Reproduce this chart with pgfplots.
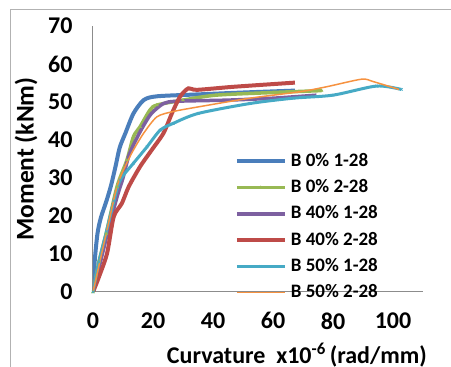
\documentclass[border=0pt]{standalone}
\usepackage{fontspec}
\setmainfont{Carlito}
\usepackage{pgfplots}
\pgfplotsset{compat=1.18}
\definecolor{cblue}{HTML}{4A7EBB}
\definecolor{cred}{HTML}{BE4B48}
\definecolor{cgreen}{HTML}{98B954}
\definecolor{cpurple}{HTML}{7D60A0}
\definecolor{ccyan}{HTML}{46AAC5}
\definecolor{corange}{HTML}{F69240}
\begin{document}
\begin{tikzpicture}
\useasboundingbox (0pt,0pt) rectangle (451pt,367pt);
\draw[black!30, line width=1pt] (10pt,-5pt) -- (10pt,357pt) -- (460pt,357pt);
\begin{axis}[
  at={(93pt,75pt)}, anchor=south west,
  scale only axis, width=330pt, height=266pt,
  xmin=0, xmax=110, ymin=0, ymax=70,
  axis lines=left,
  axis line style={-, black!45, line width=1pt},
  xtick={0,20,...,100}, ytick={0,10,...,70},
  major tick length=0pt,
  /pgf/number format/assume math mode=true,
  ticklabel style={font=\fontsize{24}{24}\selectfont\bfseries},
  xticklabel style={yshift=-17pt},
  yticklabel style={xshift=-17pt},
  xlabel={Curvature\ \ x10\textsuperscript{-6}\,(rad/mm)},
  ylabel={Moment (kNm)},
  xlabel style={font=\fontsize{24}{24}\selectfont\bfseries, at={(axis description cs:0.618,-0.237)}, anchor=center},
  ylabel style={font=\fontsize{25.5}{25.5}\selectfont\bfseries, at={(axis description cs:-0.203,0.5)}, anchor=center, rotate=0},
  legend cell align=left,
  legend style={draw=none, fill=none, at={(axis cs:46.2,37.1)}, anchor=north west,
    font=\fontsize{19}{19}\selectfont\bfseries,
    nodes={inner sep=0pt, text height=13pt, text depth=3pt},
    row sep=10.3pt,
    /tikz/every odd column/.append style={column sep=4pt}},
  legend image code/.code={\draw[mark repeat=2,mark phase=2,#1] plot coordinates {(0pt,0pt) (24pt,0pt) (48pt,0pt)};},
  every axis plot/.append style={smooth, tension=0.45},
]
\addplot[cblue, line width=4pt, no marks] coordinates {
(0,0) (0.6,8.4) (1.5,15.4) (2.6,19.5) (4.5,24) (6,28) (7.5,33) (8.9,38) (10.8,41.8) (13.5,47) (16.9,50.5) (21.3,51.5) (35,52) (50,52.5) (67.3,53)};
\addlegendentry{B 0\% 1-28}
\addplot[cgreen, line width=3.5pt, mark=triangle*, mark size=1.6pt, mark options={line width=0.5pt}] coordinates {
(0,0) (2,8) (4.4,15.4) (8,27.7) (11.3,34.7) (13.5,40.9) (15.7,43.5) (19,47.9) (21.3,49.2) (30,50.5) (41,51.8) (60,52.5) (76.2,53)};
\addlegendentry{B 0\% 2-28}
\addplot[cpurple, line width=3.5pt, no marks] coordinates {
(0,0) (2.5,8) (5,16) (8,25) (10,30) (12,36) (14.6,40.5) (17,44) (19.5,47) (23.5,49.6) (28,50.2) (45,50.5) (60,51) (74.5,51.8)};
\addlegendentry{B 40\% 1-28}
\addplot[cred, line width=4pt, no marks] coordinates {
(0,0) (2,4) (4.7,10.2) (6.9,19.8) (9.6,23.3) (11.9,27.7) (15.7,33) (19.6,37.4) (23.5,41.8) (26.3,47) (29,51.4) (31.8,53.6) (34.6,53.2) (46.8,54) (67.3,55.1)};
\addlegendentry{B 40\% 2-28}
\addplot[ccyan, line width=3pt, mark=x, mark size=1.8pt, mark options={line width=0.6pt}] coordinates {
(0,0) (2,8) (4.5,16) (7,24) (9.1,29.5) (13.5,33.9) (18,38.2) (22.4,42.6) (26.8,44.4) (35.1,47) (52.3,49.6) (66.7,51) (80,51.8) (94.5,54.2) (102.8,53.3)};
\addlegendentry{B 50\% 1-28}
\addplot[corange, line width=1.5pt, no marks] coordinates {
(0,0) (2,7) (4.4,15.4) (8,27.7) (11,33.5) (13.5,37.4) (16.9,41.8) (21.3,46.1) (26.8,47.5) (35.7,48.8) (52.3,51) (69,52.7) (77.8,54) (89.5,56) (93.3,55.4) (102,53.3)};
\addlegendentry{B 50\% 2-28}
\end{axis}
\end{tikzpicture}
\end{document}
